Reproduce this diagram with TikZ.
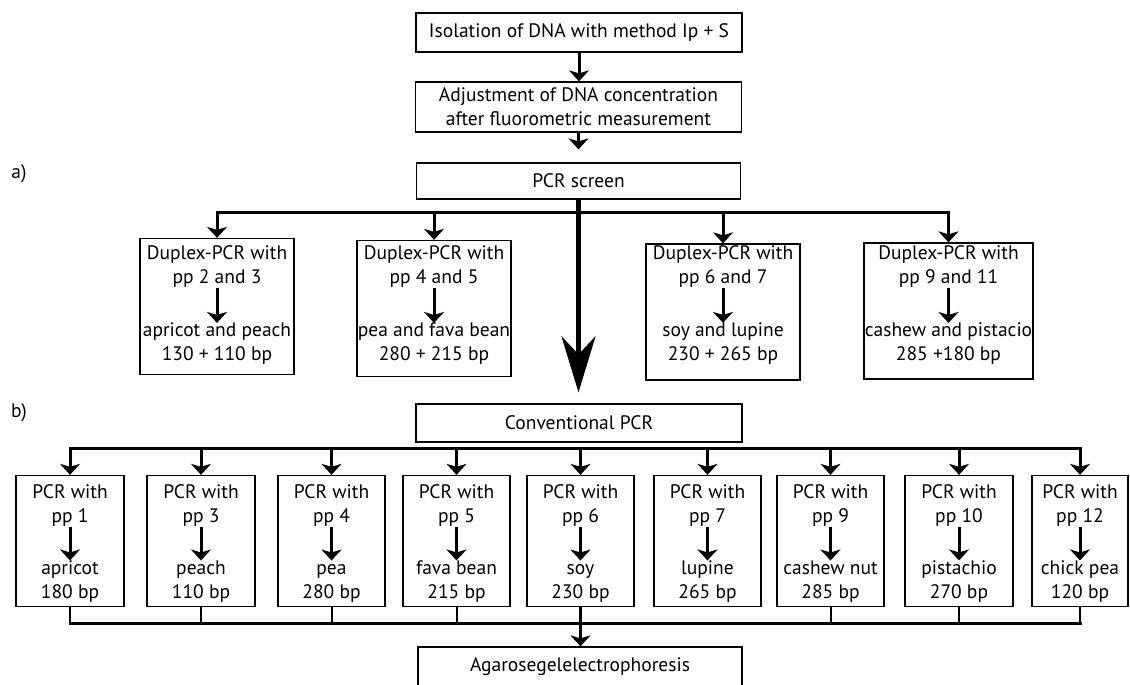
\documentclass[tikz,border=0pt]{standalone}
\usepackage{fontspec}
\setmainfont{PT Sans}
\usetikzlibrary{arrows.meta}

\tikzset{
  box/.style={draw, line width=1.3pt, inner sep=0pt, align=center},
  txt/.style={inner sep=0pt, align=center},
  arr/.style={line width=3pt, -{Stealth[length=11pt, width=20pt, inset=3pt]}},
  bar/.style={line width=3pt, line cap=rect},
  stub/.style={line width=2pt},
  bigarr/.style={line width=5pt, -{Stealth[length=56pt, width=34pt, inset=18pt]}},
}

\begin{document}
\begin{tikzpicture}[x=1pt, y=-1pt, every node/.style={font=\fontsize{19.5}{24}\selectfont}]
        \useasboundingbox (0,0) rectangle (1130,685);
        % Part labels
        \node (lbla) at (19,174) {a)};
        \node (lblb) at (19,413) {b)};
        % Preparation
        \node[box, minimum width=326pt, minimum height=39pt] (iso) at (579,32.5) {Isolation of DNA with method Ip + S};
        \node[box, minimum width=326pt, minimum height=50pt] (adj) at (578.5,107) {Adjustment of DNA concentration\\after fluorometric measurement};
        \node[box, minimum width=324pt, minimum height=36pt] (screen) at (578.5,181) {PCR screen};
        \draw[arr] (iso.south) -- (iso.south |- adj.north);
        \draw[arr, shorten >=13pt] (adj.south) -- (adj.south |- screen.north);
        % a) Duplex-PCR screen
        \coordinate (splitA) at (580,212);
        \draw[bar] (217,212) -- (948.5,212);
        \foreach \i/\x/\y/\w/\pp/\res in {1/217/306.5/154/{pp 2 and 3}/{apricot and peach\\130 + 110 bp},
            2/434/308.5/154/{pp 4 and 5}/{pea and fava bean\\280 + 215 bp},
            3/723/312/154/{pp 6 and 7}/{soy and lupine\\230 + 265 bp},
            4/948.5/311/169/{pp 9 and 11}/{cashew and pistacio\\285 +180 bp}} {
          \node[box, minimum width=\w pt, minimum height=136pt] (d\i) at (\x,\y) {};
          \node[txt] (dt\i) at (\x,267) {Duplex-PCR with\\\pp};
          \node[txt] (db\i) at (\x,344) {\vphantom{h}\res};
          \draw[arr] (dt\i) -- (db\i);
          \draw[arr] (d\i.north |- splitA) -- (d\i.north);
        }
        % Screen straight on to conventional PCR
        \node[box, minimum width=326pt, minimum height=38pt] (conv) at (579,423) {Conventional PCR};
        \draw[bigarr, shorten >=11pt] (screen.south) -- (screen.south |- conv.north);
        % b) Conventional PCR
        \coordinate (splitB) at (580,448);
        \coordinate (joinB) at (580,623);
        \foreach \i/\x/\w/\pp/\res in {1/70/108/1/{apricot\\180 bp}, 2/201/108/3/{peach\\110 bp},
            3/331.5/107/4/{pea\\280 bp}, 4/456.5/107/5/{fava bean\\215 bp}, 5/580.5/107/6/{soy\\230 bp},
            6/707.5/107/7/{lupine\\265 bp}, 7/830.5/107/9/{cashew nut\\285 bp},
            8/959/108/10/{pistachio\\270 bp}, 9/1080/96/12/{chick pea\\120 bp}} {
          \node[box, minimum width=\w pt, minimum height=131pt] (p\i) at (\x,541) {};
          \node[txt] (pt\i) at (\x,505.5) {PCR with\\pp \pp};
          \node[txt] (pb\i) at (\x,581.5) {\vphantom{h}\res};
          \draw[arr] (pt\i) -- (pb\i);
          \draw[arr] (p\i.north |- splitB) -- (p\i.north);
        }
        \draw[bar] (p1.north |- splitB) -- (p9.north |- splitB);
        % Collect results
        \node[box, minimum width=324pt, minimum height=40pt] (agar) at (580,667) {Agarosegelelectrophoresis};
        \foreach \i in {1,2,3,4,7,8,9}
          \draw[stub] (p\i.south) -- (p\i.south |- joinB);
        \draw[bar] (p1.south |- joinB) -- (p9.south |- joinB);
        \draw[arr] (p5.south) -- (p5.south |- agar.north);
    \end{tikzpicture}
\end{document}
